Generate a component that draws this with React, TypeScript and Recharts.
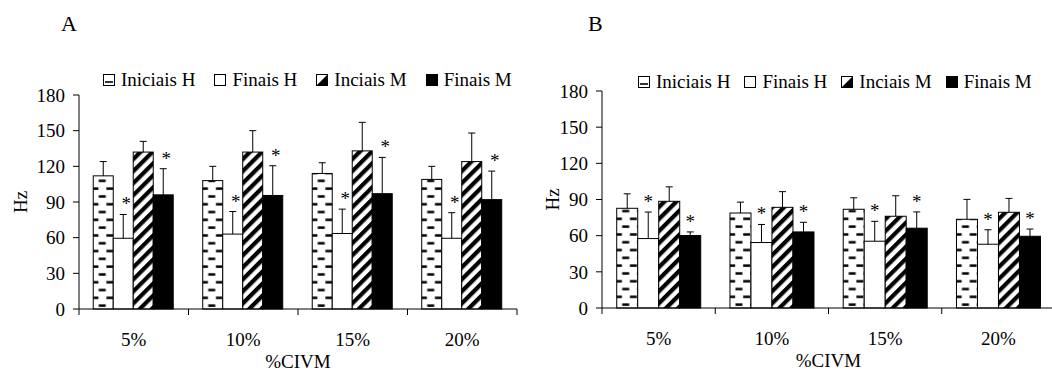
import React from 'react';
import { BarChart, Bar, XAxis, YAxis } from 'recharts';

const FONT = '"Liberation Serif", "Times New Roman", serif';

const categories = ['5%', '10%', '15%', '20%'];
const yTicks = [0, 30, 60, 90, 120, 150, 180];
const seriesNames = ['Iniciais H', 'Finais H', 'Inciais M', 'Finais M'];

// Panel A - values and upper SD
const aIniciaisH = [112, 108, 114, 109];
const aIniciaisHSd = [12, 12, 9, 11];
const aFinaisH = [59.5, 63, 63.5, 59.5];
const aFinaisHSd = [20, 19, 20.5, 21.5];
const aInciaisM = [132, 132, 133, 124];
const aInciaisMSd = [9, 18, 24, 24];
const aFinaisM = [96, 95.5, 97, 92];
const aFinaisMSd = [22, 25, 30.5, 24];

// Panel B
const bIniciaisH = [82.7, 78.8, 81.9, 73.6];
const bIniciaisHSd = [12, 9, 9.5, 16.5];
const bFinaisH = [57.6, 54.3, 55.4, 52.9];
const bFinaisHSd = [22, 15, 16.5, 12];
const bInciaisM = [88.5, 83.5, 76.1, 79.4];
const bInciaisMSd = [12, 13, 17, 11.5];
const bFinaisM = [60.1, 63.1, 66.2, 59.5];
const bFinaisMSd = [3, 8, 13.5, 6];

const buildRows = (ih: number[], ihSd: number[], fh: number[], fhSd: number[], im: number[], imSd: number[], fm: number[], fmSd: number[]) =>
  categories.map((cat, i) => ({
    cat,
    ih: ih[i], ihSd: ihSd[i],
    fh: fh[i], fhSd: fhSd[i],
    im: im[i], imSd: imSd[i],
    fm: fm[i], fmSd: fmSd[i],
  }));

const dataA = buildRows(aIniciaisH, aIniciaisHSd, aFinaisH, aFinaisHSd, aInciaisM, aInciaisMSd, aFinaisM, aFinaisMSd);
const dataB = buildRows(bIniciaisH, bIniciaisHSd, bFinaisH, bFinaisHSd, bInciaisM, bInciaisMSd, bFinaisM, bFinaisMSd);

const series = [
  { key: 'ih', sd: 'ihSd', kind: 'dash', star: false },
  { key: 'fh', sd: 'fhSd', kind: 'white', star: true },
  { key: 'im', sd: 'imSd', kind: 'stripe', star: false },
  { key: 'fm', sd: 'fmSd', kind: 'black', star: true },
];

// bar + upper error bar + asterisk
const makeShape = (panel: string, s: any, starDx: number) => (props: any) => {
  const { x, y, width, height, payload, index } = props;
  const pxPerUnit = height / payload[s.key];
  const errTop = y - payload[s.sd] * pxPerUnit;
  const cx = x + width / 2;
  const pid = `${panel}-${s.kind}-${index}`;
  let fill = '#fff';
  if (s.kind === 'black') fill = '#000';
  if (s.kind === 'dash' || s.kind === 'stripe') fill = `url(#${pid})`;
  return (
    <g>
      {s.kind === 'dash' && (
        <defs>
          <pattern id={pid} patternUnits="userSpaceOnUse" x={x} y={y + height} width={15} height={15.6}>
            <rect x={0} y={0} width={15} height={15.6} fill="#fff" />
            <rect x={5.5} y={11} width={7} height={2.5} fill="#000" />
            <rect x={0} y={3.2} width={5.2} height={2.5} fill="#000" />
            <rect x={13.2} y={3.2} width={1.8} height={2.5} fill="#000" />
          </pattern>
        </defs>
      )}
      {s.kind === 'stripe' && (
        <defs>
          <pattern id={pid} patternUnits="userSpaceOnUse" width={8.5} height={8.5} patternTransform={`translate(${x},0) rotate(45)`}>
            <rect x={0} y={0} width={8.5} height={8.5} fill="#fff" />
            <rect x={0} y={0} width={4.2} height={8.5} fill="#000" />
          </pattern>
        </defs>
      )}
      <rect x={x} y={y} width={width} height={height} fill={fill} stroke="#000" strokeWidth={1} />
      <line x1={cx} x2={cx} y1={y} y2={errTop} stroke="#000" strokeWidth={1} />
      <line x1={cx - 3.5} x2={cx + 3.5} y1={errTop} y2={errTop} stroke="#000" strokeWidth={1} />
      {s.star && (
        <text x={cx + starDx} y={errTop - 4} textAnchor="middle" fontSize={19} fontFamily={FONT} fill="#000">*</text>
      )}
    </g>
  );
};

const XTick = (props: any) => {
  const { x, y, payload, index, band, last } = props;
  return (
    <g>
      <line x1={x - band / 2} x2={x - band / 2} y1={y} y2={y + 6} stroke="#000" />
      {index === last && <line x1={x + band / 2} x2={x + band / 2} y1={y} y2={y + 6} stroke="#000" />}
      <text x={x} y={y + 37} textAnchor="middle" fontSize={19} fontFamily={FONT} fill="#000">
        {payload.value}
      </text>
    </g>
  );
};

function LegendIcon({ kind }: { kind: string }) {
  return (
    <svg width={12} height={12} style={{ display: 'block' }}>
      <rect x={0.5} y={0.5} width={11} height={11} fill={kind === 'black' ? '#000' : '#fff'} stroke="#000" />
      {kind === 'dash' && <rect x={2} y={7} width={8} height={2} fill="#333" />}
      {kind === 'stripe' && <polygon points="11.5,0.5 11.5,11.5 0.5,11.5" fill="#000" />}
    </svg>
  );
}

function PanelLegend({ left, top, gap }: { left: number; top: number; gap: number }) {
  return (
    <div style={{ position: 'absolute', left, top, display: 'flex', alignItems: 'center', whiteSpace: 'nowrap', fontFamily: FONT, fontSize: 19, lineHeight: '19px', color: '#000' }}>
      {series.map((s, i) => (
        <div key={s.key} style={{ display: 'flex', alignItems: 'center', marginRight: i < series.length - 1 ? gap : 0 }}>
          <LegendIcon kind={s.kind} />
          <span style={{ marginLeft: 6 }}>{seriesNames[i]}</span>
        </div>
      ))}
    </div>
  );
}

interface PanelProps {
  id: string;
  data: any[];
  left: number;
  width: number;
  margin: { top: number; right: number; left: number; bottom: number };
  hzDx: number;
  starDx: number;
}

function Panel({ id, data, left, width, margin, hzDx, starDx }: PanelProps) {
  const height = 373;
  const yAxisWidth = 60;
  const band = (width - margin.left - margin.right - yAxisWidth) / categories.length;
  return (
    <div style={{ position: 'absolute', left, top: 0 }}>
      <BarChart width={width} height={height} data={data} margin={margin} barGap={0} barCategoryGap="13%">
        <XAxis
          dataKey="cat"
          interval={0}
          tickLine={false}
          tickSize={0}
          tickMargin={0}
          height={60}
          axisLine={{ stroke: '#000' }}
          tick={<XTick band={band} last={categories.length - 1} />}
          label={{
            content: (p: any) => {
              const vb = p.viewBox;
              return (
                <text x={vb.x + vb.width / 2} y={vb.y + 59} textAnchor="middle" fontSize={19} fontFamily={FONT} fill="#000">
                  %CIVM
                </text>
              );
            },
          }}
        />
        <YAxis
          type="number"
          domain={[0, 180]}
          ticks={yTicks}
          interval={0}
          width={yAxisWidth}
          tickSize={6}
          tickMargin={8}
          axisLine={{ stroke: '#000' }}
          tickLine={{ stroke: '#000' }}
          tick={{ fontSize: 19, fill: '#000', fontFamily: FONT }}
          label={{
            content: (p: any) => {
              const vb = p.viewBox;
              const lx = vb.x + hzDx;
              const ly = vb.y + vb.height / 2;
              return (
                <text x={lx} y={ly} transform={`rotate(-90, ${lx}, ${ly})`} textAnchor="middle" dominantBaseline="central" fontSize={19} fontFamily={FONT} fill="#000">
                  Hz
                </text>
              );
            },
          }}
        />
        {series.map((s) => (
          <Bar key={s.key} dataKey={s.key} isAnimationActive={false} shape={makeShape(id, s, starDx)} />
        ))}
      </BarChart>
    </div>
  );
}

export default function App() {
  return (
    <div style={{ position: 'absolute', left: 0, top: 0, width: 1052, height: 373, overflow: 'hidden', background: '#fff' }}>
      <div style={{ position: 'absolute', left: 61, top: 13, fontFamily: FONT, fontSize: 22, lineHeight: '22px' }}>A</div>
      <div style={{ position: 'absolute', left: 588, top: 13, fontFamily: FONT, fontSize: 22, lineHeight: '22px' }}>B</div>
      <Panel id="a" data={dataA} left={0} width={525} margin={{ top: 95, right: 8, left: 19, bottom: 4 }} hzDx={1} starDx={3} />
      <Panel id="b" data={dataB} left={520} width={540} margin={{ top: 91, right: 5, left: 22, bottom: 5 }} hzDx={10.5} starDx={0} />
      <PanelLegend left={103} top={70} gap={19} />
      <PanelLegend left={638} top={72} gap={14} />
    </div>
  );
}
